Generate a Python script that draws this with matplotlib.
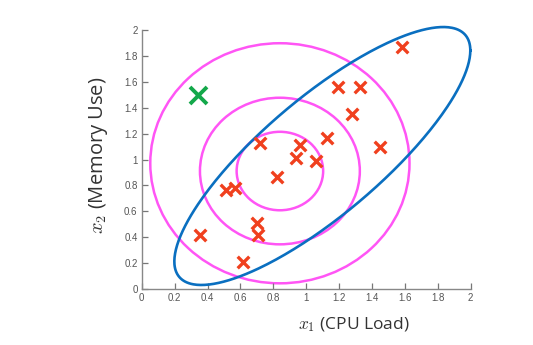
import numpy as np
import matplotlib
matplotlib.use("Agg")
import matplotlib.pyplot as plt
from matplotlib.patches import Ellipse

plt.rcParams['mathtext.fontset'] = 'cm'

# normal examples (x1 = CPU load, x2 = memory use)
cpu = [1.58, 1.195, 1.33, 1.277, 1.449, 1.125, 0.962, 0.938, 1.06, 0.824,
       0.72, 0.512, 0.567, 0.354, 0.70, 0.709, 0.618]
mem = [1.87, 1.56, 1.557, 1.35, 1.099, 1.164, 1.112, 1.009, 0.991, 0.867,
       1.13, 0.764, 0.777, 0.417, 0.507, 0.417, 0.211]

# anomaly
anom_cpu = [0.344]
anom_mem = [1.498]

# axis-aligned contours (independent gaussians)
circ_cx = [0.84, 0.84, 0.84]
circ_cy = [0.911, 0.911, 0.971]
circ_rx = [0.263, 0.486, 0.788]
circ_ry = [0.303, 0.566, 0.927]

# multivariate gaussian contour: centre and shape matrix
mv_center = [1.098, 1.027]
mv_shape = [[0.8095, 0.7327],
            [0.7327, 0.992]]

ticks = [0, 0.2, 0.4, 0.6, 0.8, 1, 1.2, 1.4, 1.6, 1.8, 2]
tick_labels = ['0', '0.2', '0.4', '0.6', '0.8', '1', '1.2', '1.4', '1.6', '1.8', '2']

fig = plt.figure(figsize=(5.33, 3.45), dpi=100)
ax = fig.add_axes([0.2659, 0.1623, 0.6172, 0.7507])

for cx, cy, rx, ry in zip(circ_cx, circ_cy, circ_rx, circ_ry):
    ax.add_patch(Ellipse((cx, cy), 2 * rx, 2 * ry, fill=False,
                         edgecolor='#ff55f5', lw=1.8, clip_on=False))

t = np.linspace(0, 2 * np.pi, 400)
L = np.linalg.cholesky(np.array(mv_shape))
pts = L @ np.vstack([np.cos(t), np.sin(t)])
ax.plot(mv_center[0] + pts[0], mv_center[1] + pts[1], color='#0a6fc0',
        lw=1.9, clip_on=False)

ax.scatter(cpu, mem, marker='x', s=70, color='#f0401e', linewidths=2.4,
           zorder=3)
ax.scatter(anom_cpu, anom_mem, marker='x', s=150, color='#13a84a',
           linewidths=2.8, zorder=3)

ax.set_xlim(0, 2)
ax.set_ylim(0, 2)
ax.set_xticks(ticks)
ax.set_xticklabels(tick_labels)
ax.set_yticks(ticks)
ax.set_yticklabels(tick_labels)
ax.tick_params(direction='in', length=4, width=0.9, color='#777777',
               labelcolor='#555555', labelsize=7, pad=3)
for lbl in ax.get_xticklabels() + ax.get_yticklabels():
    lbl.set_family('Liberation Sans')

for side in ['top', 'right']:
    ax.spines[side].set_visible(False)
for side in ['left', 'bottom']:
    ax.spines[side].set_color('#888888')
    ax.spines[side].set_linewidth(1.0)

ax.set_xlabel(r'$x_1$ (CPU Load)', fontsize=12.5, color='#333333',
              family='Open Sans')
ax.xaxis.set_label_coords(0.644, -0.102)
ax.set_ylabel(r'$x_2$ (Memory Use)', fontsize=14.5, color='#333333',
              family='Open Sans')
ax.yaxis.set_label_coords(-0.095, 0.517)

fig.savefig('out.png', dpi=100)
